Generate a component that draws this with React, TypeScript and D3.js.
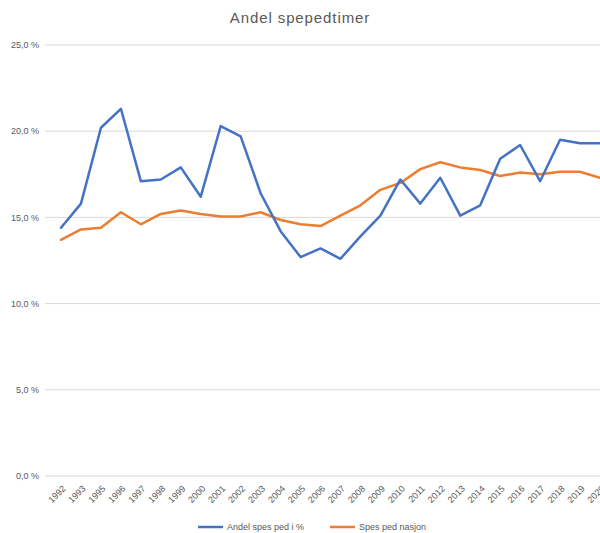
import React, { useEffect, useRef } from "react";
import * as d3 from "d3";

// years (1994 is not in the source sheet)
const years = ["1992","1993","1995","1996","1997","1998","1999","2000","2001","2002","2003","2004","2005","2006","2007","2008","2009","2010","2011","2012","2013","2014","2015","2016","2017","2018","2019","2020"];
const andelSpesPed = [14.4,15.8,20.2,21.3,17.1,17.2,17.9,16.2,20.3,19.7,16.4,14.2,12.7,13.2,12.6,13.9,15.1,17.2,15.8,17.3,15.1,15.7,18.4,19.2,17.1,19.5,19.3,19.3];
const spesPedNasjon = [13.7,14.3,14.4,15.3,14.6,15.2,15.4,15.2,15.05,15.05,15.3,14.85,14.6,14.5,15.1,15.7,16.6,17.0,17.8,18.2,17.9,17.75,17.4,17.6,17.5,17.65,17.65,17.3];
const yTicks = [0, 5, 10, 15, 20, 25];

const font = "'Liberation Sans', Arial, sans-serif";
const grey = "#595959";

export default function App() {
  const ref = useRef<SVGSVGElement>(null);

  useEffect(() => {
    const svg = d3.select(ref.current);
    svg.selectAll("*").remove();

    const x = d3.scalePoint().domain(years).range([61, 600]);
    const y = d3.scaleLinear().domain([0, 25]).range([476, 45]);

    // gridlines
    svg.append("g").selectAll("line").data(yTicks).join("line")
      .attr("x1", 45).attr("x2", 610)
      .attr("y1", d => y(d)).attr("y2", d => y(d))
      .attr("stroke", "#d9d9d9").attr("stroke-width", 1);

    // y labels
    svg.append("g").selectAll("text").data(yTicks).join("text")
      .attr("x", 39).attr("y", d => y(d)).attr("dy", "0.35em")
      .attr("text-anchor", "end")
      .style("font-family", font).style("font-size", "9px").attr("fill", grey)
      .text(d => d3.format(".1f")(d).replace(".", ",") + " %");

    // x labels (2020 runs off the right edge, as in the source)
    svg.append("g").selectAll("text").data(years).join("text")
      .attr("transform", d => `translate(${x(d)! + 3},${487}) rotate(-45)`)
      .attr("text-anchor", "end").attr("dy", "0.35em")
      .style("font-family", font).style("font-size", "9px").attr("fill", grey)
      .text(d => d);

    const line = d3.line<number>().x((_, i) => x(years[i])!).y(d => y(d));

    svg.append("path").datum(spesPedNasjon).attr("d", line)
      .attr("fill", "none").attr("stroke", "#ED7D31").attr("stroke-width", 2.5)
      .attr("stroke-linejoin", "round").attr("stroke-linecap", "round");
    svg.append("path").datum(andelSpesPed).attr("d", line)
      .attr("fill", "none").attr("stroke", "#4472C4").attr("stroke-width", 2.5)
      .attr("stroke-linejoin", "round").attr("stroke-linecap", "round");

    // title
    svg.append("text").attr("x", 300).attr("y", 23).attr("text-anchor", "middle")
      .style("font-family", font).style("font-size", "15px").style("letter-spacing", "0.9px")
      .attr("fill", grey)
      .text("Andel spepedtimer");

    // legend
    const legend = [
      { label: "Andel spes ped i %", color: "#4472C4", x: 198 },
      { label: "Spes ped nasjon", color: "#ED7D31", x: 330 },
    ];
    const lg = svg.append("g").selectAll("g").data(legend).join("g")
      .attr("transform", d => `translate(${d.x},527)`);
    lg.append("line").attr("x1", 0).attr("x2", 25).attr("y1", 0).attr("y2", 0)
      .attr("stroke", d => d.color).attr("stroke-width", 2.5);
    lg.append("text").attr("x", 29).attr("dy", "0.35em")
      .style("font-family", font).style("font-size", "9px").attr("fill", grey)
      .text(d => d.label);
  }, []);

  return (
    <svg ref={ref} width={600} height={533}
      style={{ position: "absolute", left: 0, top: 0, background: "#fff" }} />
  );
}
